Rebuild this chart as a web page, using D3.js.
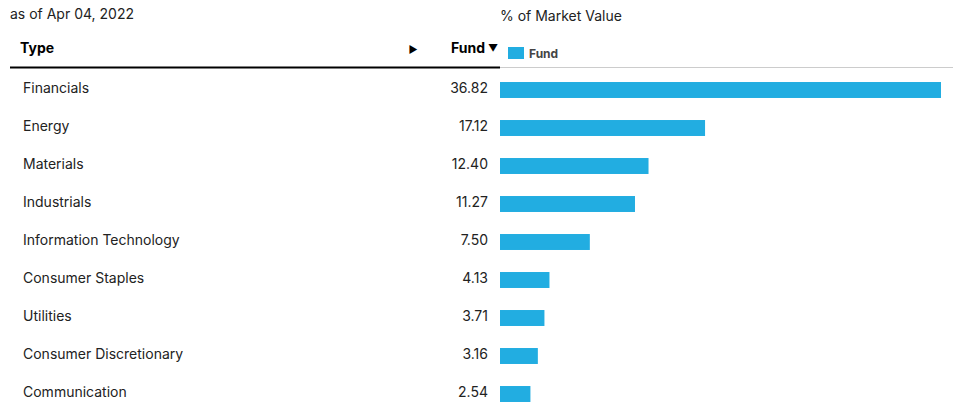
<!DOCTYPE html>
<html>
<head>
<meta charset="utf-8">
<script src="https://cdn.jsdelivr.net/npm/d3@7"></script>
<style>
  body { margin: 0; background: #fff; }
  text { font-family: "Inter", "Roboto", sans-serif; }
</style>
</head>
<body>
<svg id="chart" width="953" height="410"></svg>
<script>
var categories = ["Financials", "Energy", "Materials", "Industrials", "Information Technology",
  "Consumer Staples", "Utilities", "Consumer Discretionary", "Communication"];
var fundValues = [36.82, 17.12, 12.40, 11.27, 7.50, 4.13, 3.71, 3.16, 2.54];

var svg = d3.select("#chart");
var barColor = "#22ade1";

// header texts
svg.append("text").attr("x", 10).attr("y", 19)
  .style("font-size", "14px").attr("fill", "#222").text("as of Apr 04, 2022");
svg.append("text").attr("x", 500).attr("y", 21)
  .style("font-size", "14px").attr("fill", "#222").text("% of Market Value");

svg.append("text").attr("x", 20).attr("y", 53)
  .style("font-size", "14px").style("font-weight", "bold").attr("fill", "#000").text("Type");
svg.append("text").attr("x", 413).attr("y", 53)
  .style("font-size", "10px").attr("text-anchor", "middle").attr("fill", "#000").text("\u25B6");
svg.append("text").attr("x", 485).attr("y", 53)
  .style("font-size", "14px").style("font-weight", "bold").attr("text-anchor", "end").attr("fill", "#000").text("Fund");
svg.append("text").attr("x", 493).attr("y", 52)
  .style("font-size", "10px").attr("text-anchor", "middle").attr("fill", "#000").text("\u25BC");

svg.append("line").attr("x1", 10).attr("x2", 500).attr("y1", 67.5).attr("y2", 67.5)
  .attr("stroke", "#000").attr("stroke-width", 2);
svg.append("line").attr("x1", 500).attr("x2", 953).attr("y1", 67.5).attr("y2", 67.5)
  .attr("stroke", "#ccc").attr("stroke-width", 1);

// legend
svg.append("rect").attr("x", 508).attr("y", 47).attr("width", 16).attr("height", 12).attr("fill", barColor);
svg.append("text").attr("x", 529).attr("y", 58)
  .style("font-size", "12px").style("font-weight", "bold").attr("fill", "#444").text("Fund");

var x = d3.scaleLinear().domain([0, 36.82]).range([500, 941]);
var y = d3.scaleBand().domain(categories).range([71, 413]).paddingInner(0.58).paddingOuter(0.29);

var rows = svg.append("g").selectAll("g").data(categories).enter().append("g");

rows.append("text").attr("x", 23).attr("y", function(d) { return y(d) + y.bandwidth() / 2 + 3; })
  .style("font-size", "14px").attr("fill", "#222").text(function(d) { return d; });

rows.append("text").attr("x", 488).attr("y", function(d) { return y(d) + y.bandwidth() / 2 + 3; })
  .style("font-size", "14px").attr("text-anchor", "end").attr("fill", "#222")
  .text(function(d, i) { return fundValues[i].toFixed(2); });

rows.append("rect").attr("x", x(0)).attr("y", function(d) { return y(d); })
  .attr("height", y.bandwidth())
  .attr("width", function(d, i) { return x(fundValues[i]) - x(0); })
  .attr("fill", barColor);
</script>
</body>
</html>
